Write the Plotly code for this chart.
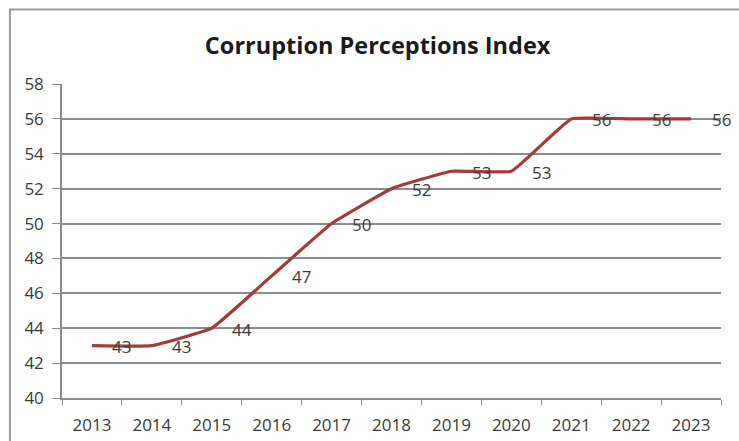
import plotly.graph_objects as go

years = ["2013", "2014", "2015", "2016", "2017", "2018", "2019", "2020", "2021", "2022", "2023"]
cpi_scores = [43, 43, 44, 47, 50, 52, 53, 53, 56, 56, 56]
y_ticks = [40, 42, 44, 46, 48, 50, 52, 54, 56, 58]

line_color = "#A23B3A"
grid_color = "#8C8C8C"
label_color = "#3A3A3A"
font_family = "'Open Sans', sans-serif"

fig = go.Figure()
fig.add_trace(go.Scatter(
    x=years,
    y=cpi_scores,
    mode="lines",
    line=dict(color=line_color, width=3.2, shape="spline", smoothing=0.3),
    hoverinfo="x+y",
    showlegend=False,
))

# value labels placed to the right of each point
# (category axis: positions given by category index)
for idx, val in enumerate(cpi_scores):
    fig.add_annotation(
        x=idx, y=val, text=str(val), showarrow=False,
        xshift=30, yshift=-1,
        font=dict(family=font_family, size=17, color=label_color),
    )

# outer chart frame
fig.add_shape(
    type="rect", xref="paper", yref="paper",
    x0=-0.079, y0=-0.2, x1=1.1, y1=1.237,
    line=dict(color="#9A9A9A", width=2),
)

fig.update_layout(
    width=739, height=441,
    margin=dict(l=62, r=18, t=84, b=43),
    paper_bgcolor="white",
    plot_bgcolor="white",
    title=dict(
        text="<b>Corruption Perceptions Index</b>",
        x=0.511, xanchor="center", y=0.896, yanchor="middle",
        font=dict(family=font_family, size=23.5, color="#1A1A1A"),
    ),
    xaxis=dict(
        type="category",
        tickson="boundaries",
        ticks="outside", ticklen=5, tickcolor=grid_color, tickwidth=1,
        ticklabelstandoff=11,
        showline=True, linecolor=grid_color, linewidth=1.5,
        showgrid=False,
        tickfont=dict(family=font_family, size=17, color=label_color),
        range=[-0.5, 10.5],
        automargin=False,
        fixedrange=True,
    ),
    yaxis=dict(
        range=[40, 58],
        tickvals=y_ticks,
        ticks="outside", ticklen=8, tickcolor=grid_color,
        ticklabelstandoff=5,
        showline=True, linecolor=grid_color, linewidth=1.5,
        showgrid=True, gridcolor=grid_color, gridwidth=1.5,
        zeroline=False,
        tickfont=dict(family=font_family, size=17, color=label_color),
        automargin=False,
        fixedrange=True,
    ),
)

fig.write_html("out.html")
